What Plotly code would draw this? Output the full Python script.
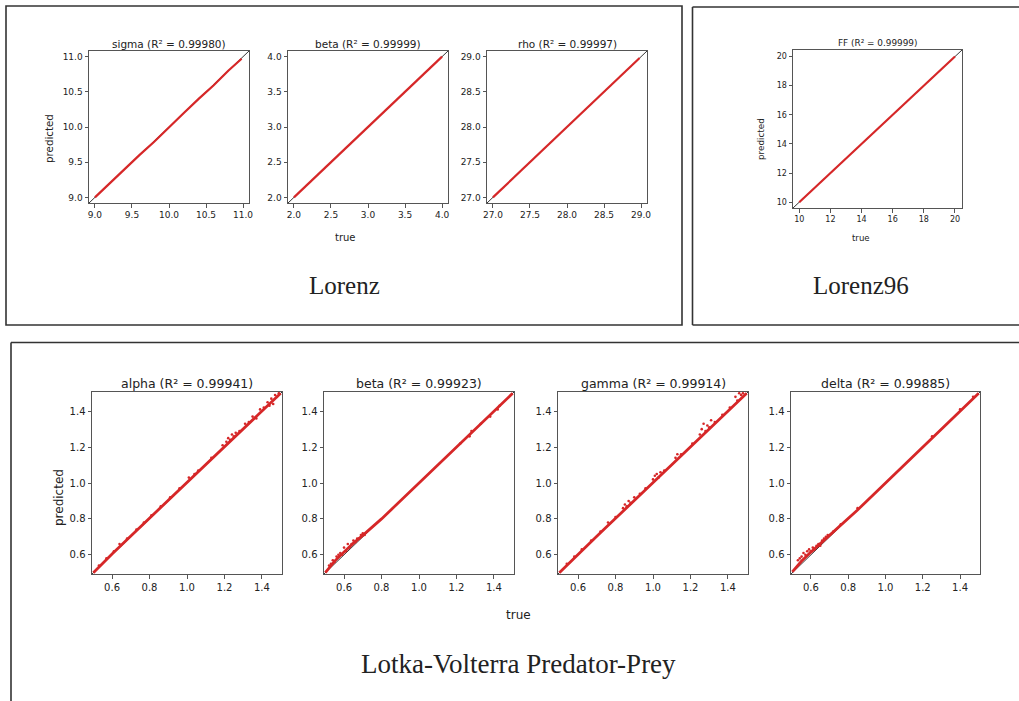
import plotly.graph_objects as go

W, H = 1019, 701
RED = "#d62728"
INK = "#222222"
SPINE = "#555555"
SANS = "DejaVu Sans"
SERIF = "Liberation Serif"

# ---- Lorenz parameter recovery (true vs predicted) ----
sigma_true = [9.00, 9.20, 9.40, 9.60, 9.80, 10.00, 10.20, 10.40, 10.60, 10.80, 10.98]
sigma_pred = [9.00, 9.20, 9.41, 9.60, 9.79, 10.00, 10.20, 10.40, 10.59, 10.80, 10.97]

lbeta_true = [2.00, 2.20, 2.40, 2.60, 2.80, 3.00, 3.20, 3.40, 3.60, 3.80, 4.00]
lbeta_pred = [2.00, 2.20, 2.40, 2.60, 2.80, 3.00, 3.20, 3.40, 3.60, 3.80, 4.00]

rho_true = [27.00, 27.20, 27.40, 27.60, 27.80, 28.00, 28.20, 28.40, 28.60, 28.80, 28.98]
rho_pred = [27.00, 27.20, 27.40, 27.60, 27.80, 28.00, 28.20, 28.40, 28.60, 28.80, 28.98]

# ---- Lorenz96 forcing recovery ----
ff_true = [10.0, 11.0, 12.0, 13.0, 14.0, 15.0, 16.0, 17.0, 18.0, 19.0, 20.0]
ff_pred = [10.0, 11.0, 12.0, 13.0, 14.0, 15.0, 16.0, 17.0, 18.0, 19.0, 20.0]

# ---- Lotka-Volterra parameter recovery ----
lv_grid = [0.50, 0.55, 0.60, 0.65, 0.70, 0.75, 0.80, 0.85, 0.90, 0.95, 1.00,
           1.05, 1.10, 1.15, 1.20, 1.25, 1.30, 1.35, 1.40, 1.45, 1.50]

alpha_pred = [0.50, 0.555, 0.605, 0.655, 0.705, 0.755, 0.805, 0.853, 0.902, 0.952, 1.003,
              1.052, 1.102, 1.152, 1.203, 1.255, 1.303, 1.352, 1.402, 1.453, 1.50]
alpha_out_true = [0.53, 0.57, 0.61, 0.64, 0.68, 0.73, 0.77, 0.81, 0.86, 0.91, 0.96, 1.01,
                  1.04, 1.06, 1.13, 1.19, 1.21, 1.22, 1.23, 1.24, 1.25, 1.26, 1.28, 1.31,
                  1.33, 1.35, 1.37, 1.39, 1.41, 1.43, 1.44, 1.45, 1.46, 1.47, 1.48, 1.49]
alpha_out_pred = [0.54, 0.58, 0.62, 0.66, 0.69, 0.74, 0.78, 0.82, 0.87, 0.92, 0.97, 1.03,
                  1.05, 1.07, 1.14, 1.21, 1.23, 1.25, 1.24, 1.27, 1.26, 1.28, 1.29, 1.33,
                  1.34, 1.37, 1.36, 1.41, 1.42, 1.45, 1.43, 1.47, 1.44, 1.49, 1.48, 1.50]

beta_pred = [0.50, 0.565, 0.615, 0.665, 0.708, 0.752, 0.80, 0.85, 0.90, 0.95, 1.00,
             1.05, 1.10, 1.15, 1.20, 1.25, 1.30, 1.35, 1.40, 1.45, 1.50]
beta_out_true = [0.52, 0.53, 0.54, 0.55, 0.56, 0.57, 0.58, 0.59, 0.60, 0.61, 0.62, 0.63,
                 0.64, 0.65, 0.66, 0.67, 0.68, 0.69, 0.70, 0.71, 1.22, 1.27, 1.28, 1.33,
                 1.38, 1.42, 1.43]
beta_out_pred = [0.54, 0.55, 0.57, 0.56, 0.59, 0.60, 0.61, 0.60, 0.64, 0.62, 0.66, 0.64,
                 0.66, 0.68, 0.67, 0.69, 0.69, 0.71, 0.72, 0.71, 1.22, 1.26, 1.29, 1.33,
                 1.37, 1.41, 1.43]

gamma_pred = [0.50, 0.552, 0.603, 0.653, 0.703, 0.753, 0.803, 0.855, 0.905, 0.955, 1.005,
              1.055, 1.103, 1.153, 1.203, 1.255, 1.305, 1.355, 1.405, 1.455, 1.50]
gamma_out_true = [0.54, 0.58, 0.62, 0.67, 0.72, 0.76, 0.80, 0.84, 0.85, 0.86, 0.87, 0.88,
                  0.90, 0.93, 0.96, 1.00, 1.01, 1.02, 1.03, 1.04, 1.06, 1.12, 1.13, 1.15,
                  1.21, 1.25, 1.26, 1.27, 1.28, 1.29, 1.30, 1.31, 1.33, 1.37, 1.41, 1.44,
                  1.45, 1.46, 1.47, 1.48]
gamma_out_pred = [0.55, 0.59, 0.63, 0.68, 0.73, 0.78, 0.81, 0.86, 0.88, 0.87, 0.90, 0.89,
                  0.92, 0.94, 0.97, 1.02, 1.04, 1.05, 1.03, 1.06, 1.07, 1.14, 1.16, 1.16,
                  1.22, 1.27, 1.30, 1.33, 1.29, 1.32, 1.31, 1.35, 1.34, 1.38, 1.42, 1.48,
                  1.46, 1.50, 1.49, 1.50]

delta_pred = [0.505, 0.565, 0.615, 0.662, 0.706, 0.752, 0.80, 0.85, 0.90, 0.95, 1.00,
              1.05, 1.10, 1.15, 1.20, 1.25, 1.30, 1.35, 1.40, 1.45, 1.50]
delta_out_true = [0.53, 0.54, 0.55, 0.56, 0.57, 0.58, 0.59, 0.60, 0.61, 0.62, 0.63, 0.64,
                  0.65, 0.66, 0.67, 0.68, 0.69, 0.72, 0.76, 0.85, 1.25, 1.40, 1.47]
delta_out_pred = [0.57, 0.58, 0.59, 0.61, 0.60, 0.62, 0.63, 0.62, 0.64, 0.63, 0.65, 0.66,
                  0.65, 0.68, 0.69, 0.70, 0.71, 0.73, 0.77, 0.86, 1.26, 1.41, 1.48]

lorenz_ticks = {
    "sigma": [9.0, 9.5, 10.0, 10.5, 11.0],
    "beta": [2.0, 2.5, 3.0, 3.5, 4.0],
    "rho": [27.0, 27.5, 28.0, 28.5, 29.0],
}
ff_ticks = [10, 12, 14, 16, 18, 20]
lv_ticks = [0.6, 0.8, 1.0, 1.2, 1.4]


def px(x):
    return x / W


def py(y):
    return 1 - y / H


# (title, box in pixels (left, right, top, bottom), title centre y, axis range, ticks,
#  tick format, tick font, title font, line trace, outliers, line width)
panels = [
    ("sigma (R² = 0.99980)", (89, 249, 51, 203), 44, (8.92, 11.08), lorenz_ticks["sigma"], ".1f",
     9, 10.5, (sigma_true, sigma_pred), None, 2.2),
    ("beta (R² = 0.99999)", (288, 448, 51, 203), 44, (1.92, 4.08), lorenz_ticks["beta"], ".1f",
     9, 10.5, (lbeta_true, lbeta_pred), None, 2.2),
    ("rho (R² = 0.99997)", (487, 647, 51, 203), 44, (26.92, 29.08), lorenz_ticks["rho"], ".1f",
     9, 10.5, (rho_true, rho_pred), None, 2.2),
    ("FF (R² = 0.99999)", (793, 962, 50, 208), 43, (9.6, 20.45), ff_ticks, "d",
     8, 8.9, (ff_true, ff_pred), None, 2.2),
    ("alpha (R² = 0.99941)", (92, 282, 392, 574), 383, (0.493, 1.507), lv_ticks, ".1f",
     10, 12.5, (lv_grid, alpha_pred), (alpha_out_true, alpha_out_pred), 2.8),
    ("beta (R² = 0.99923)", (324, 514, 392, 574), 383, (0.493, 1.507), lv_ticks, ".1f",
     10, 12.5, (lv_grid, beta_pred), (beta_out_true, beta_out_pred), 2.8),
    ("gamma (R² = 0.99914)", (558, 748, 392, 574), 383, (0.493, 1.507), lv_ticks, ".1f",
     10, 12.5, (lv_grid, gamma_pred), (gamma_out_true, gamma_out_pred), 2.8),
    ("delta (R² = 0.99885)", (791, 980, 392, 574), 383, (0.493, 1.507), lv_ticks, ".1f",
     10, 12.5, (lv_grid, delta_pred), (delta_out_true, delta_out_pred), 2.8),
]

fig = go.Figure()
annotations = []
layout_axes = {}


def label(text, x, y, size, family=SANS, angle=0):
    annotations.append(dict(
        text=text, x=px(x), y=py(y), xref="paper", yref="paper",
        xanchor="center", yanchor="middle", showarrow=False, textangle=angle,
        font=dict(family=family, size=size, color=INK)))


for i, (title, box, ty, rng, ticks, fmt, tfs, hfs, line, outl, lw) in enumerate(panels, start=1):
    xa = "x" if i == 1 else f"x{i}"
    ya = "y" if i == 1 else f"y{i}"
    left, right, top, bottom = box
    axis_common = dict(
        range=list(rng), showgrid=False, zeroline=False, showline=True, mirror=True,
        linecolor=SPINE, linewidth=1, ticks="outside", ticklen=3.5, tickwidth=1,
        tickcolor=SPINE, tickvals=ticks, tickformat=fmt, automargin=False,
        tickfont=dict(family=SANS, size=tfs, color=INK), fixedrange=True,
    )
    layout_axes["xaxis" if i == 1 else f"xaxis{i}"] = dict(
        axis_common, domain=[px(left), px(right)], anchor=ya)
    layout_axes["yaxis" if i == 1 else f"yaxis{i}"] = dict(
        axis_common, domain=[py(bottom), py(top)], anchor=xa)

    # identity reference line across the full axis range
    fig.add_trace(go.Scatter(x=list(rng), y=list(rng), mode="lines",
                             line=dict(color="black", width=0.8),
                             xaxis=xa, yaxis=ya, showlegend=False, hoverinfo="skip"))
    fig.add_trace(go.Scatter(x=line[0], y=line[1], mode="lines",
                             line=dict(color=RED, width=lw),
                             xaxis=xa, yaxis=ya, showlegend=False))
    if outl is not None:
        fig.add_trace(go.Scatter(x=outl[0], y=outl[1], mode="markers",
                                 marker=dict(color=RED, size=2.6, line=dict(width=0)),
                                 xaxis=xa, yaxis=ya, showlegend=False))

    label(title, (left + right) / 2, ty, hfs)


# shared axis labels
label("predicted", 49, 139, 10.3, angle=-90)
label("true", 345, 238, 10)
label("predicted", 761, 139, 8.8, angle=-90)
label("true", 861, 238, 8.6)
label("predicted", 59, 498, 12, angle=-90)
label("true", 518, 615, 12)

# group captions
label("Lorenz", 344, 285, 25, family=SERIF)
label("Lorenz96", 861, 285, 25, family=SERIF)
label("Lotka-Volterra Predator-Prey", 518, 664, 27, family=SERIF)

# panel frames (the right-hand and lower frames run past the page edge)
FRAME = dict(color="#333333", width=1.6)


def seg(x0, y0, x1, y1):
    return dict(type="line", xref="paper", yref="paper", line=FRAME, layer="below",
                x0=px(x0), y0=py(y0), x1=px(x1), y1=py(y1))


shapes = [
    dict(type="rect", xref="paper", yref="paper", line=FRAME, fillcolor="rgba(0,0,0,0)",
         layer="below", x0=px(6), x1=px(682), y0=py(325), y1=py(6)),
    seg(692.5, 7, 1019, 7),
    seg(692.5, 7, 692.5, 325),
    seg(692.5, 325, 1019, 325),
    seg(11, 342.5, 1019, 342.5),
    seg(11, 342.5, 11, 701),
]

fig.update_layout(
    width=W, height=H, margin=dict(l=0, r=0, t=0, b=0, pad=0, autoexpand=False),
    paper_bgcolor="white", plot_bgcolor="white",
    showlegend=False, annotations=annotations, shapes=shapes,
    **layout_axes,
)

fig.write_html("out.html", config={"displayModeBar": False})
